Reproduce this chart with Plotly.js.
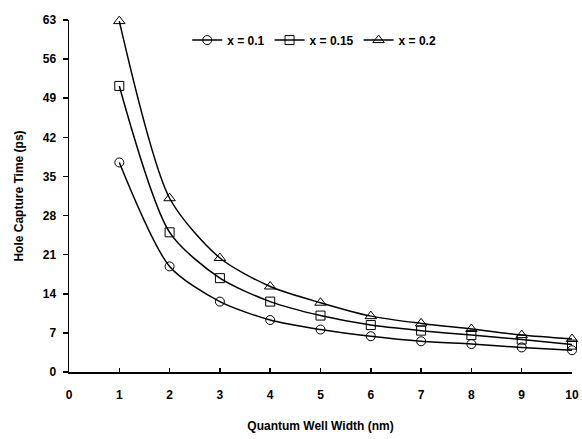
<!DOCTYPE html>
<html>
<head>
<meta charset="utf-8">
<script src="https://cdn.plot.ly/plotly-3.0.1.min.js"></script>
<style>html,body{margin:0;padding:0;background:#fff}#chart{width:582px;height:439px}</style>
</head>
<body>
<div id="chart"></div>
<script>
const widths = [1, 2, 3, 4, 5, 6, 7, 8, 9, 10];
const seriesNames = ["x = 0.1", "x = 0.15", "x = 0.2"];
const capture01 = [37.5, 18.9, 12.6, 9.3, 7.6, 6.4, 5.5, 5.0, 4.4, 3.9];
const capture015 = [51.2, 25.0, 16.8, 12.6, 10.1, 8.4, 7.4, 6.6, 5.8, 4.9];
const capture02 = [62.8, 31.1, 20.4, 15.3, 12.4, 10.0, 8.7, 7.7, 6.6, 5.9];
const xTicks = [0, 1, 2, 3, 4, 5, 6, 7, 8, 9, 10];
const yTicks = [0, 7, 14, 21, 28, 35, 42, 49, 56, 63];

const allSeries = [capture01, capture015, capture02];
const symbols = ["circle-open", "square-open", "triangle-up-open"];
const sizes = [9, 9, 10];

const font = {family: "Liberation Sans, Arial, sans-serif", size: 12, color: "#000", weight: "bold"};

const traces = allSeries.map((ys, i) => ({
  x: widths, y: ys, name: seriesNames[i], type: "scatter", mode: "lines+markers",
  cliponaxis: false,
  line: {color: "#000", width: 1.5, shape: "spline", smoothing: 0.75},
  marker: {symbol: symbols[i], size: sizes[i], color: "#000", line: {width: 1, color: "#000"}}
}));

const layout = {
  width: 582, height: 439,
  margin: {l: 68.5, r: 10, t: 20, b: 67},
  paper_bgcolor: "#fff", plot_bgcolor: "#fff",
  font: font,
  showlegend: true,
  legend: {orientation: "h", x: 0.235, xanchor: "left", y: 0.943, yanchor: "middle",
           font: font, bgcolor: "rgba(0,0,0,0)", itemwidth: 30, tracegroupgap: 0},
  xaxis: {
    range: [0, 10], tickvals: xTicks, ticktext: xTicks.map(String),
    showgrid: false, zeroline: false, showline: true, linecolor: "#000", linewidth: 1.5,
    ticks: "inside", ticklen: 4, tickwidth: 1.5, tickcolor: "#000",
    tickfont: font, ticklabelstandoff: 11,
    title: {text: "Quantum Well Width (nm)", font: font, standoff: 20}
  },
  yaxis: {
    range: [0, 63], tickvals: yTicks, ticktext: yTicks.map(String),
    showgrid: false, zeroline: false, showline: true, linecolor: "#000", linewidth: 1.5,
    ticks: "outside", ticklen: 5, tickwidth: 1.5, tickcolor: "#000",
    tickfont: font, ticklabelstandoff: 4,
    title: {text: "Hole Capture Time (ps)", font: font, standoff: 16}
  }
};

Plotly.newPlot("chart", traces, layout, {displayModeBar: false, staticPlot: true});
</script>
</body>
</html>
